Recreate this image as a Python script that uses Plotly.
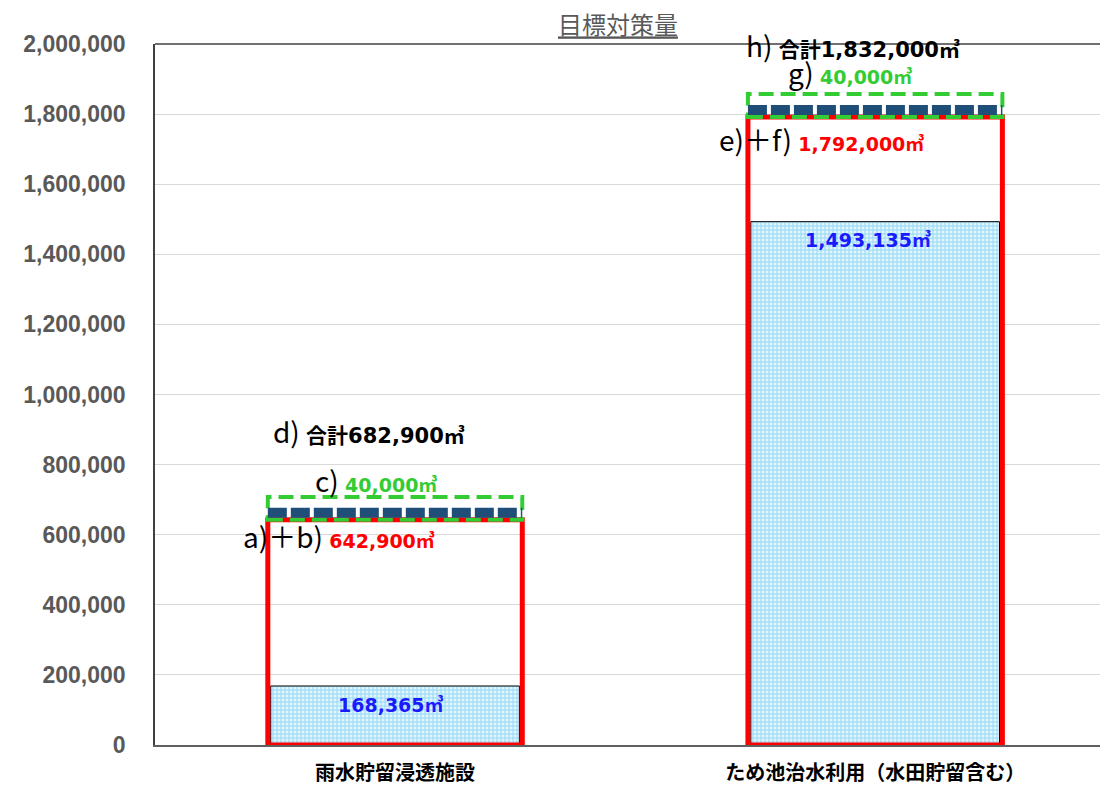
import plotly.graph_objects as go

# ---------------- data ----------------
categories = ["雨水貯留浸透施設", "ため池治水利用（水田貯留含む）"]
base_values = [168365, 1493135]        # blue hatched part
subtotal_values = [642900, 1792000]    # a)+b) / e)+f)  (red box)
extra_values = [40000, 40000]          # c) / g)  (dashed boxes)
total_values = [682900, 1832000]       # d) / h)
subtotal_prefix = ["a)＋b)", "e)＋f)"]
extra_prefix = ["c)", "g)"]
total_prefix = ["d)", "h)"]
y_tick_values = [0, 200000, 400000, 600000, 800000, 1000000,
                 1200000, 1400000, 1600000, 1800000, 2000000]
title_text = "目標対策量"

# ---------------- styles ----------------
BAR_W = 0.53
RED = "#ff0000"
GREEN = "#33cc33"
NAVY = "#1f4e79"
BLUE_TXT = "#1a1aff"
GRAY = "#595959"
VAL_FONT = "DejaVu Sans, Noto Sans CJK JP, sans-serif"
PREFIX_STYLE = "font-family:Noto Sans CJK JP;font-size:28px;font-weight:normal;color:#000000"

x_pos = list(range(len(categories)))

fig = go.Figure()

# blue hatched part
fig.add_trace(go.Bar(
    x=x_pos, y=base_values, width=BAR_W - 0.012,
    marker=dict(color="#cfeefb",
                line=dict(color="#000000", width=1),
                pattern=dict(shape="+", fgcolor="#3cb9ec", bgcolor="#dff4fd",
                             size=4, solidity=0.4)),
    hoverinfo="skip", showlegend=False,
))
# red outlined subtotal box
fig.add_trace(go.Bar(
    x=x_pos, y=subtotal_values, width=BAR_W,
    marker=dict(color="rgba(0,0,0,0)", line=dict(color=RED, width=5)),
    hoverinfo="skip", showlegend=False,
))

shapes = []
annotations = []
for i in x_pos:
    x0 = i - BAR_W / 2
    x1 = i + BAR_W / 2
    # green dashed box (extra 40,000)
    shapes.append(dict(type="rect", xref="x", yref="y", x0=x0, x1=x1,
                       y0=subtotal_values[i], y1=subtotal_values[i] + extra_values[i] + 25000,
                       line=dict(color=GREEN, width=4, dash="15px,7px"), layer="above"))
    # navy dashed band
    shapes.append(dict(type="line", xref="x", yref="y", x0=x0, x1=x1,
                       y0=subtotal_values[i] + 20000, y1=subtotal_values[i] + 20000,
                       line=dict(color=NAVY, width=10, dash="19px,4px"), layer="above"))

# label offsets (pixels) per bar
total_dy = [75, 58]
total_dx = [-26, -22]
extra_dy = [26, 31]
extra_dx = [-19, -25]
sub_dy = [-16, -22]
sub_dx = [-56, -54]
base_dy = [-19, -18]
base_dx = [-4, -7]

for i in x_pos:
    annotations.append(dict(
        x=i, y=total_values[i], xref="x", yref="y", showarrow=False,
        xshift=total_dx[i], yshift=total_dy[i],
        text=f'<span style="{PREFIX_STYLE}">{total_prefix[i]} </span><b>合計{total_values[i]:,}㎥</b>',
        font=dict(family=VAL_FONT, size=21, color="#000000")))
    annotations.append(dict(
        x=i, y=total_values[i], xref="x", yref="y", showarrow=False,
        xshift=extra_dx[i], yshift=extra_dy[i],
        text=f'<span style="{PREFIX_STYLE}">{extra_prefix[i]} </span><b>{extra_values[i]:,}㎥</b>',
        font=dict(family=VAL_FONT, size=19, color=GREEN)))
    annotations.append(dict(
        x=i, y=subtotal_values[i], xref="x", yref="y", showarrow=False,
        xshift=sub_dx[i], yshift=sub_dy[i],
        text=f'<span style="{PREFIX_STYLE}">{subtotal_prefix[i]} </span><b>{subtotal_values[i]:,}㎥</b>',
        font=dict(family=VAL_FONT, size=19, color=RED)))
    annotations.append(dict(
        x=i, y=base_values[i], xref="x", yref="y", showarrow=False,
        xshift=base_dx[i], yshift=base_dy[i],
        text=f'<b>{base_values[i]:,}㎥</b>',
        font=dict(family=VAL_FONT, size=19, color=BLUE_TXT)))

# page has an 8px body margin: figure is placed at (8, 8)
fig.update_layout(
    width=1100, height=777,
    margin=dict(l=147, r=0, t=36, b=40),
    paper_bgcolor="white", plot_bgcolor="white",
    barmode="overlay",
    title=dict(text=f"<u>{title_text}</u>", x=0.5545, xanchor="center",
               y=1 - 18 / 777, yanchor="middle",
               font=dict(family="Noto Sans CJK JP", size=24, color=GRAY)),
    shapes=shapes,
    annotations=annotations,
    showlegend=False,
)
fig.update_xaxes(
    range=[-0.5, 1.485], tickvals=x_pos, ticktext=[f"<b>{c}</b>" for c in categories],
    tickfont=dict(family="Noto Sans CJK JP", size=20, color="#000000"),
    showline=True, linecolor="#606060", linewidth=1.5, mirror=False,
    showgrid=False, ticks="", zeroline=False, ticklabelstandoff=9,
    automargin=False,
)
fig.update_yaxes(
    range=[0, 2000000], tickvals=y_tick_values, tickformat=",d",
    tickfont=dict(family="Liberation Sans, Arial", size=23, color=GRAY, weight="bold"),
    showline=True, linecolor="#404040", linewidth=1.5, mirror=False,
    showgrid=True, gridcolor="#d9d9d9", gridwidth=1, zeroline=False,
    ticks="", ticklabelstandoff=23, automargin=False,
)
# top frame line
fig.add_shape(type="line", xref="paper", yref="paper", x0=0, x1=1, y0=1, y1=1,
              line=dict(color="#404040", width=1.5))

fig.write_html("out.html")
